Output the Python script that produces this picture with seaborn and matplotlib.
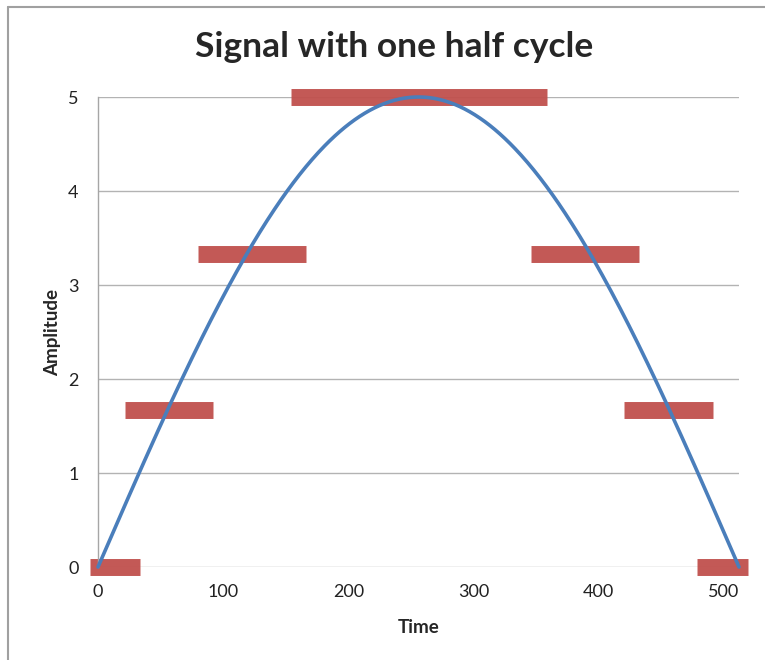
import numpy as np
import pandas as pd
import matplotlib
matplotlib.use("Agg")
import matplotlib.pyplot as plt
import seaborn as sns
from matplotlib.lines import Line2D

# Data
n_samples = 513
amplitude = 5.0
time = np.arange(n_samples)
signal = amplitude * np.sin(np.pi * time / 512)

bar_levels = [0.0, 5/3, 10/3, 5.0, 10/3, 5/3, 0.0]
bar_starts = [-6.5, 21.5, 80, 154.5, 345.5, 420, 478.5]
bar_ends = [33.5, 92, 166.5, 358.5, 432, 491, 519]

title = "Signal with one half cycle"
xlabel = "Time"
ylabel = "Amplitude"
xticks = [0, 100, 200, 300, 400, 500]
yticks = [0, 1, 2, 3, 4, 5]

sns.set_style("white")
plt.rcParams['font.family'] = ['Lato', 'DejaVu Sans']

fig = plt.figure(figsize=(7.65, 6.6), dpi=100)
ax = fig.add_axes([98/765, 1 - 567/660, (739-98)/765, (567-97)/660])

df = pd.DataFrame({"Time": time, "Amplitude": signal})

# Red quantization bars
for lvl, x0, x1 in zip(bar_levels, bar_starts, bar_ends):
    ax.plot([x0, x1], [lvl, lvl], color="#C0504D", lw=12.2, solid_capstyle="butt",
            alpha=0.95, clip_on=False, zorder=2)

sns.lineplot(data=df, x="Time", y="Amplitude", ax=ax, color="#4A7EBB", lw=2.6,
             zorder=3, clip_on=False)

ax.set_xlim(0, 512)
ax.set_ylim(0, 5)
ax.set_xticks(xticks)
ax.set_yticks(yticks)
ax.yaxis.grid(True, color="#B3B3B3", lw=1.0)
ax.xaxis.grid(False)
ax.set_axisbelow(True)
for s in ["top", "right", "bottom"]:
    ax.spines[s].set_visible(False)
ax.spines["left"].set_color("#A6A6A6")
ax.spines["left"].set_linewidth(1.0)
ax.tick_params(axis="both", length=0, labelsize=13, labelcolor="#222222")
ax.tick_params(axis="y", pad=14)
ax.tick_params(axis="x", pad=12)

ax.set_xlabel(xlabel, fontsize=13.5, fontweight="bold", labelpad=14)
ax.set_ylabel(ylabel, fontsize=13.5, fontweight="bold", labelpad=5)
fig.text(394/765, 1 - 47/660, title, ha="center", va="center",
         fontsize=25.5, fontweight="bold")

# Figure border (chart area frame)
fig.add_artist(Line2D([8/765, 1], [1 - 7/660, 1 - 7/660], color="#A0A0A0", lw=1.5,
                      transform=fig.transFigure))
fig.add_artist(Line2D([8/765, 8/765], [0, 1 - 7/660], color="#A0A0A0", lw=1.5,
                      transform=fig.transFigure))

fig.savefig("out.png", dpi=100)
